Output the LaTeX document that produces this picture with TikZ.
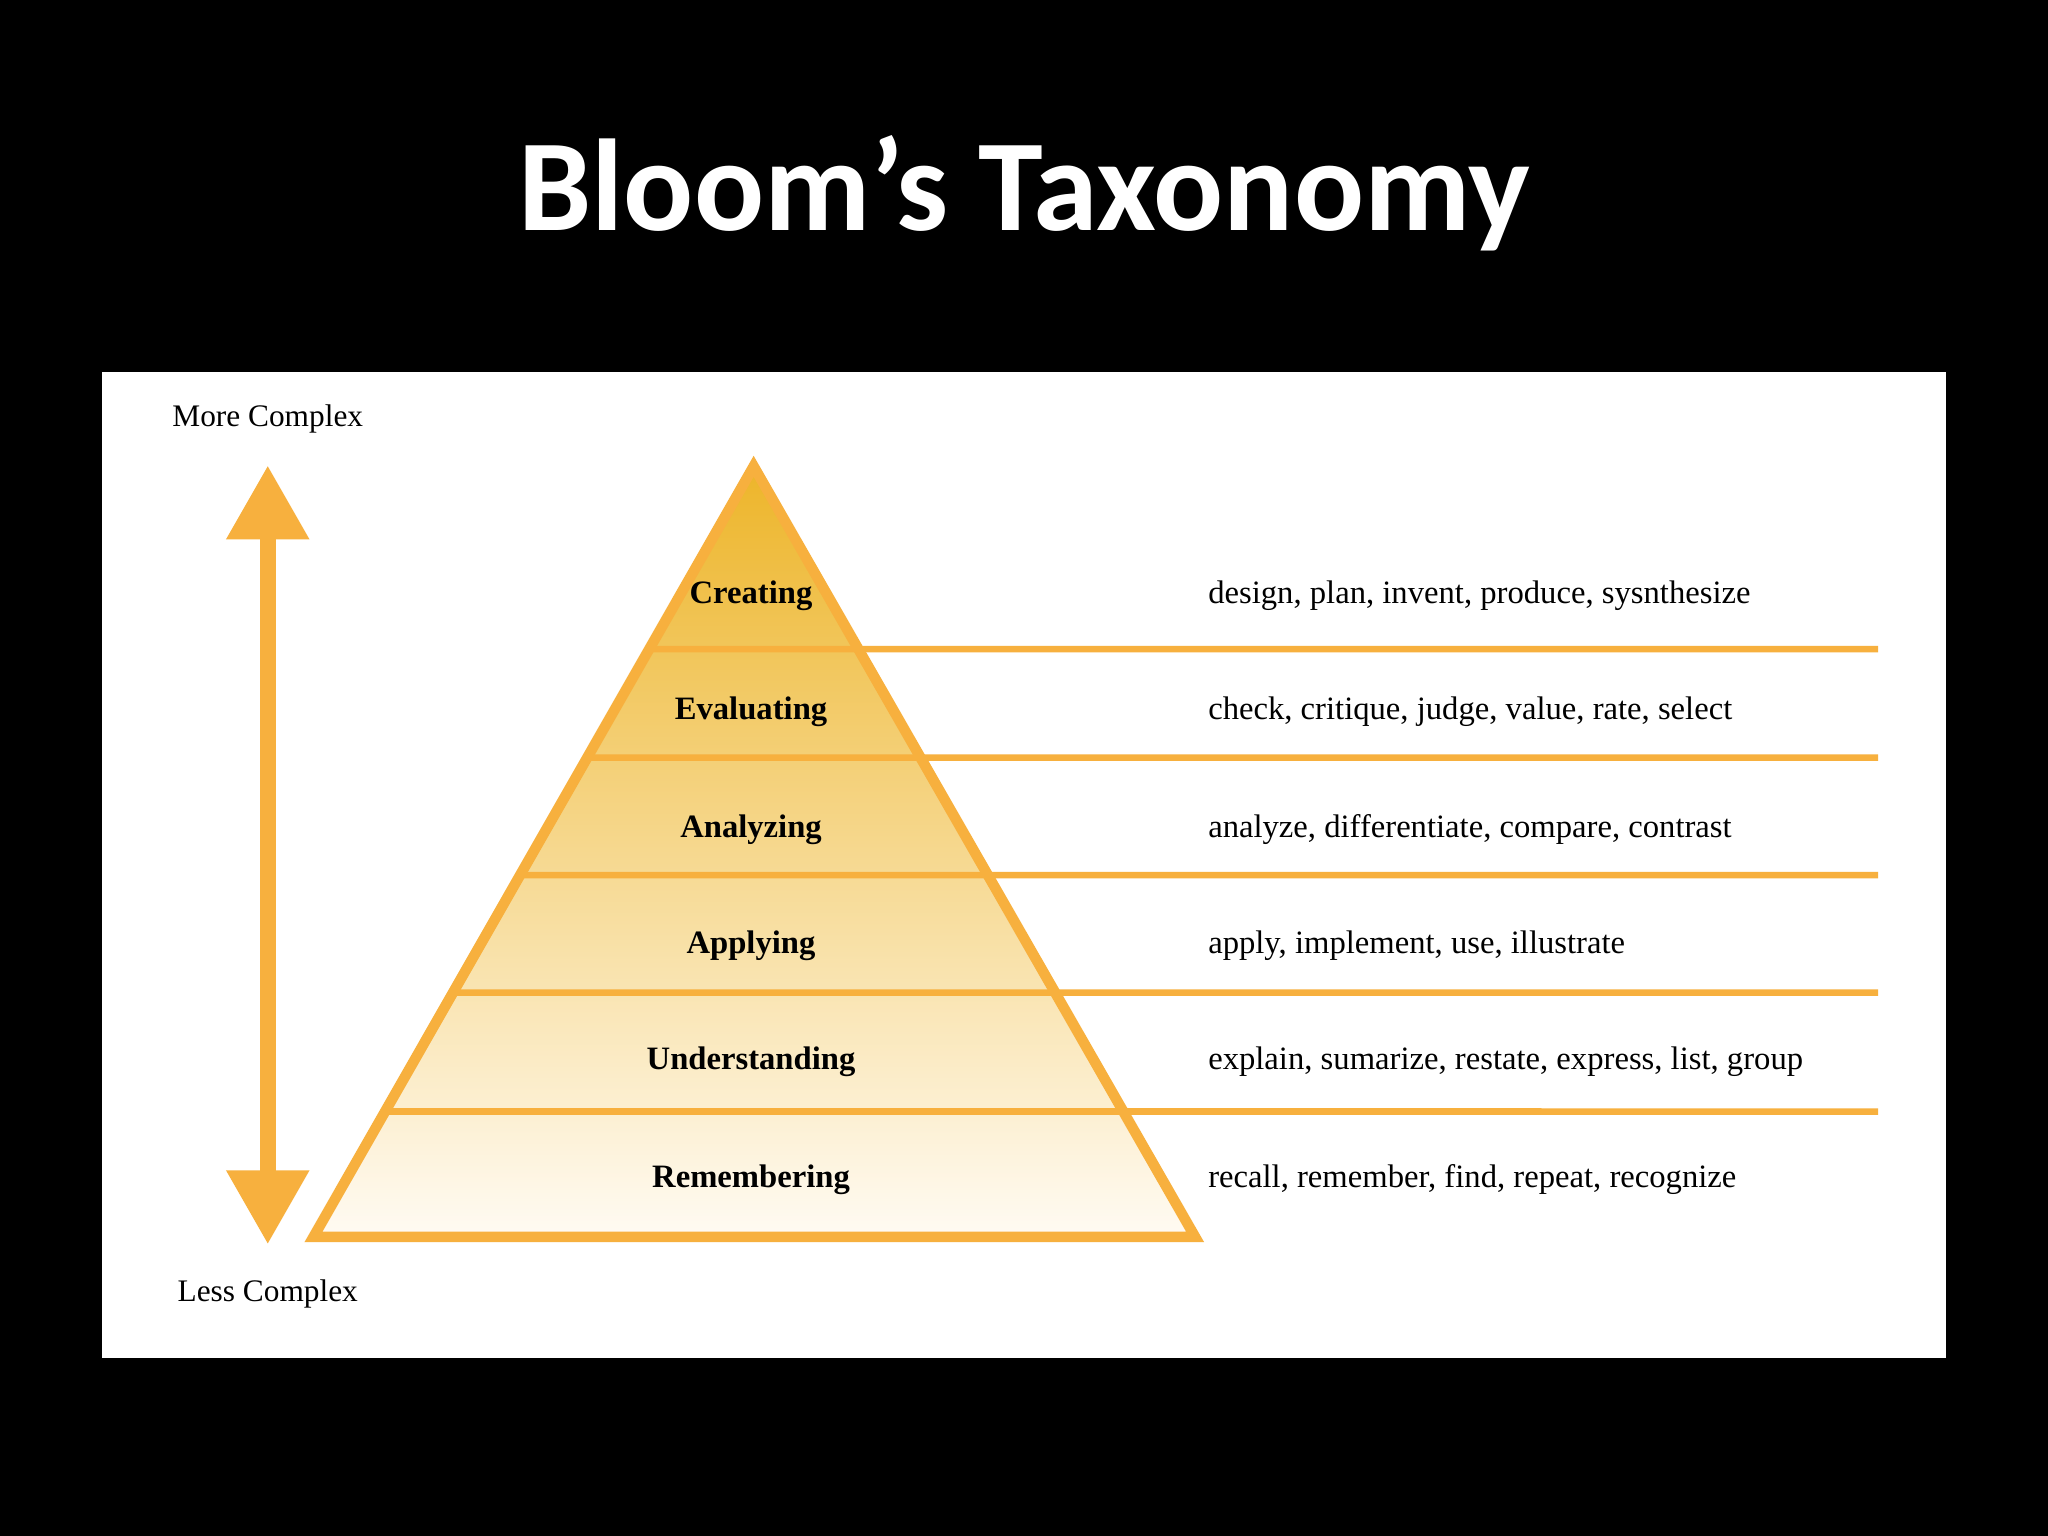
\documentclass[tikz,border=0pt]{standalone}
\usepackage{fontspec}
\setmainfont{Liberation Serif}
\newfontfamily\titlefont{Carlito}
\usetikzlibrary{calc}
\definecolor{org}{HTML}{F7B03E}
\definecolor{topc}{HTML}{EDB52A}
\definecolor{botc}{HTML}{FFFBF3}
\tikzset{lvl/.style={font=\bfseries\fontsize{12.5}{14}\selectfont,anchor=center},
 verbs/.style={font=\fontsize{12.5}{14}\selectfont,anchor=west},
 side/.style={font=\fontsize{12}{14}\selectfont}}
\begin{document}
\begin{tikzpicture}[x=0.5pt,y=-0.5pt]
\fill[black] (0,0) rectangle (1568,1176);
\useasboundingbox (0,0) rectangle (1568,1176);
\node[text=white,font=\titlefont\bfseries\fontsize{50}{56}\selectfont] (title) at (784,148) {Bloom’s Taxonomy};
\fill[white] (78,285) rectangle (1490,1040);
\coordinate (apex) at (577,357);
\coordinate (bl) at (240,947);
\coordinate (br) at (915,947);
\shade[top color=topc,bottom color=botc] (apex)--(bl)--(br)--cycle;
\foreach \y in {497,580,670,760,851}{
  \pgfmathsetmacro{\t}{(\y-357)/590}
  \draw[org,line width=2.5pt] ($(apex)!\t!(bl)$) -- ($(apex)!\t!(br)$) -- (1438,\y);
}
\draw[org,line width=4pt,line join=miter] (apex)--(bl)--(br)--cycle;
\foreach \y/\l/\v in {456/Creating/{design, plan, invent, produce, sysnthesize},
 545/Evaluating/{check, critique, judge, value, rate, select},
 635/Analyzing/{analyze, differentiate, compare, contrast},
 724/Applying/{apply, implement, use, illustrate},
 813/Understanding/{explain, sumarize, restate, express, list, group},
 903/Remembering/{recall, remember, find, repeat, recognize}}{
 \node[lvl] (L\l) at (575,\y) {\l};
 \node[verbs] (V\l) at (918,\y) {\v};
}
\node[side] (more) at (205,321) {More Complex};
\node[side] (less) at (205,991) {Less Complex};
\coordinate (atop) at (205,357);
\coordinate (abot) at (205,952);
\fill[org] (atop) -- (237,413) -- (173,413) -- cycle;
\fill[org] (abot) -- (237,896) -- (173,896) -- cycle;
\draw[org,line width=6pt] (205,410) -- (205,899);
\end{tikzpicture}
\end{document}
